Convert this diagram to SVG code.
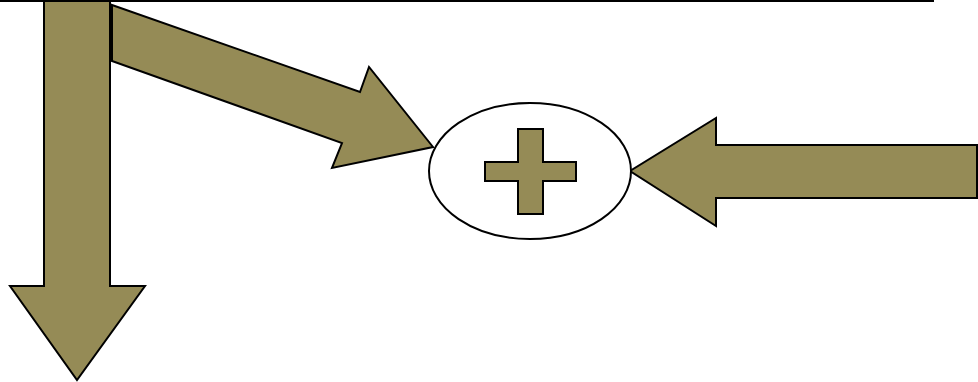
<svg xmlns="http://www.w3.org/2000/svg" width="978" height="382" viewBox="0 0 978 382">
<style>
.arr{fill:#958b56;stroke:#000;stroke-width:2;stroke-linejoin:miter}
</style>
<rect width="978" height="382" fill="#fff"/>
<g id="connectors">
<polygon id="down-arrow" class="arr" points="44,0 110,0 110,286 145,286 77,380 10,286 44,286"/>
<polygon id="diag-arrow" class="arr" points="112,5 360,92 369,67 433,147 332,168 342,143 112,61"/>
<polygon id="left-arrow" class="arr" points="977,145 716,145 716,118 630,171 716,226 716,198 977,198"/>
</g>
<line x1="0" y1="1" x2="934" y2="1" stroke="#000" stroke-width="2"/>
<g id="sum-node">
<ellipse cx="530" cy="171" rx="101" ry="68" fill="#fff" stroke="#000" stroke-width="2"/>
<polygon class="arr" points="518,129 543,129 543,162 576,162 576,181 543,181 543,214 518,214 518,181 485,181 485,162 518,162"/>
</g>
</svg>
